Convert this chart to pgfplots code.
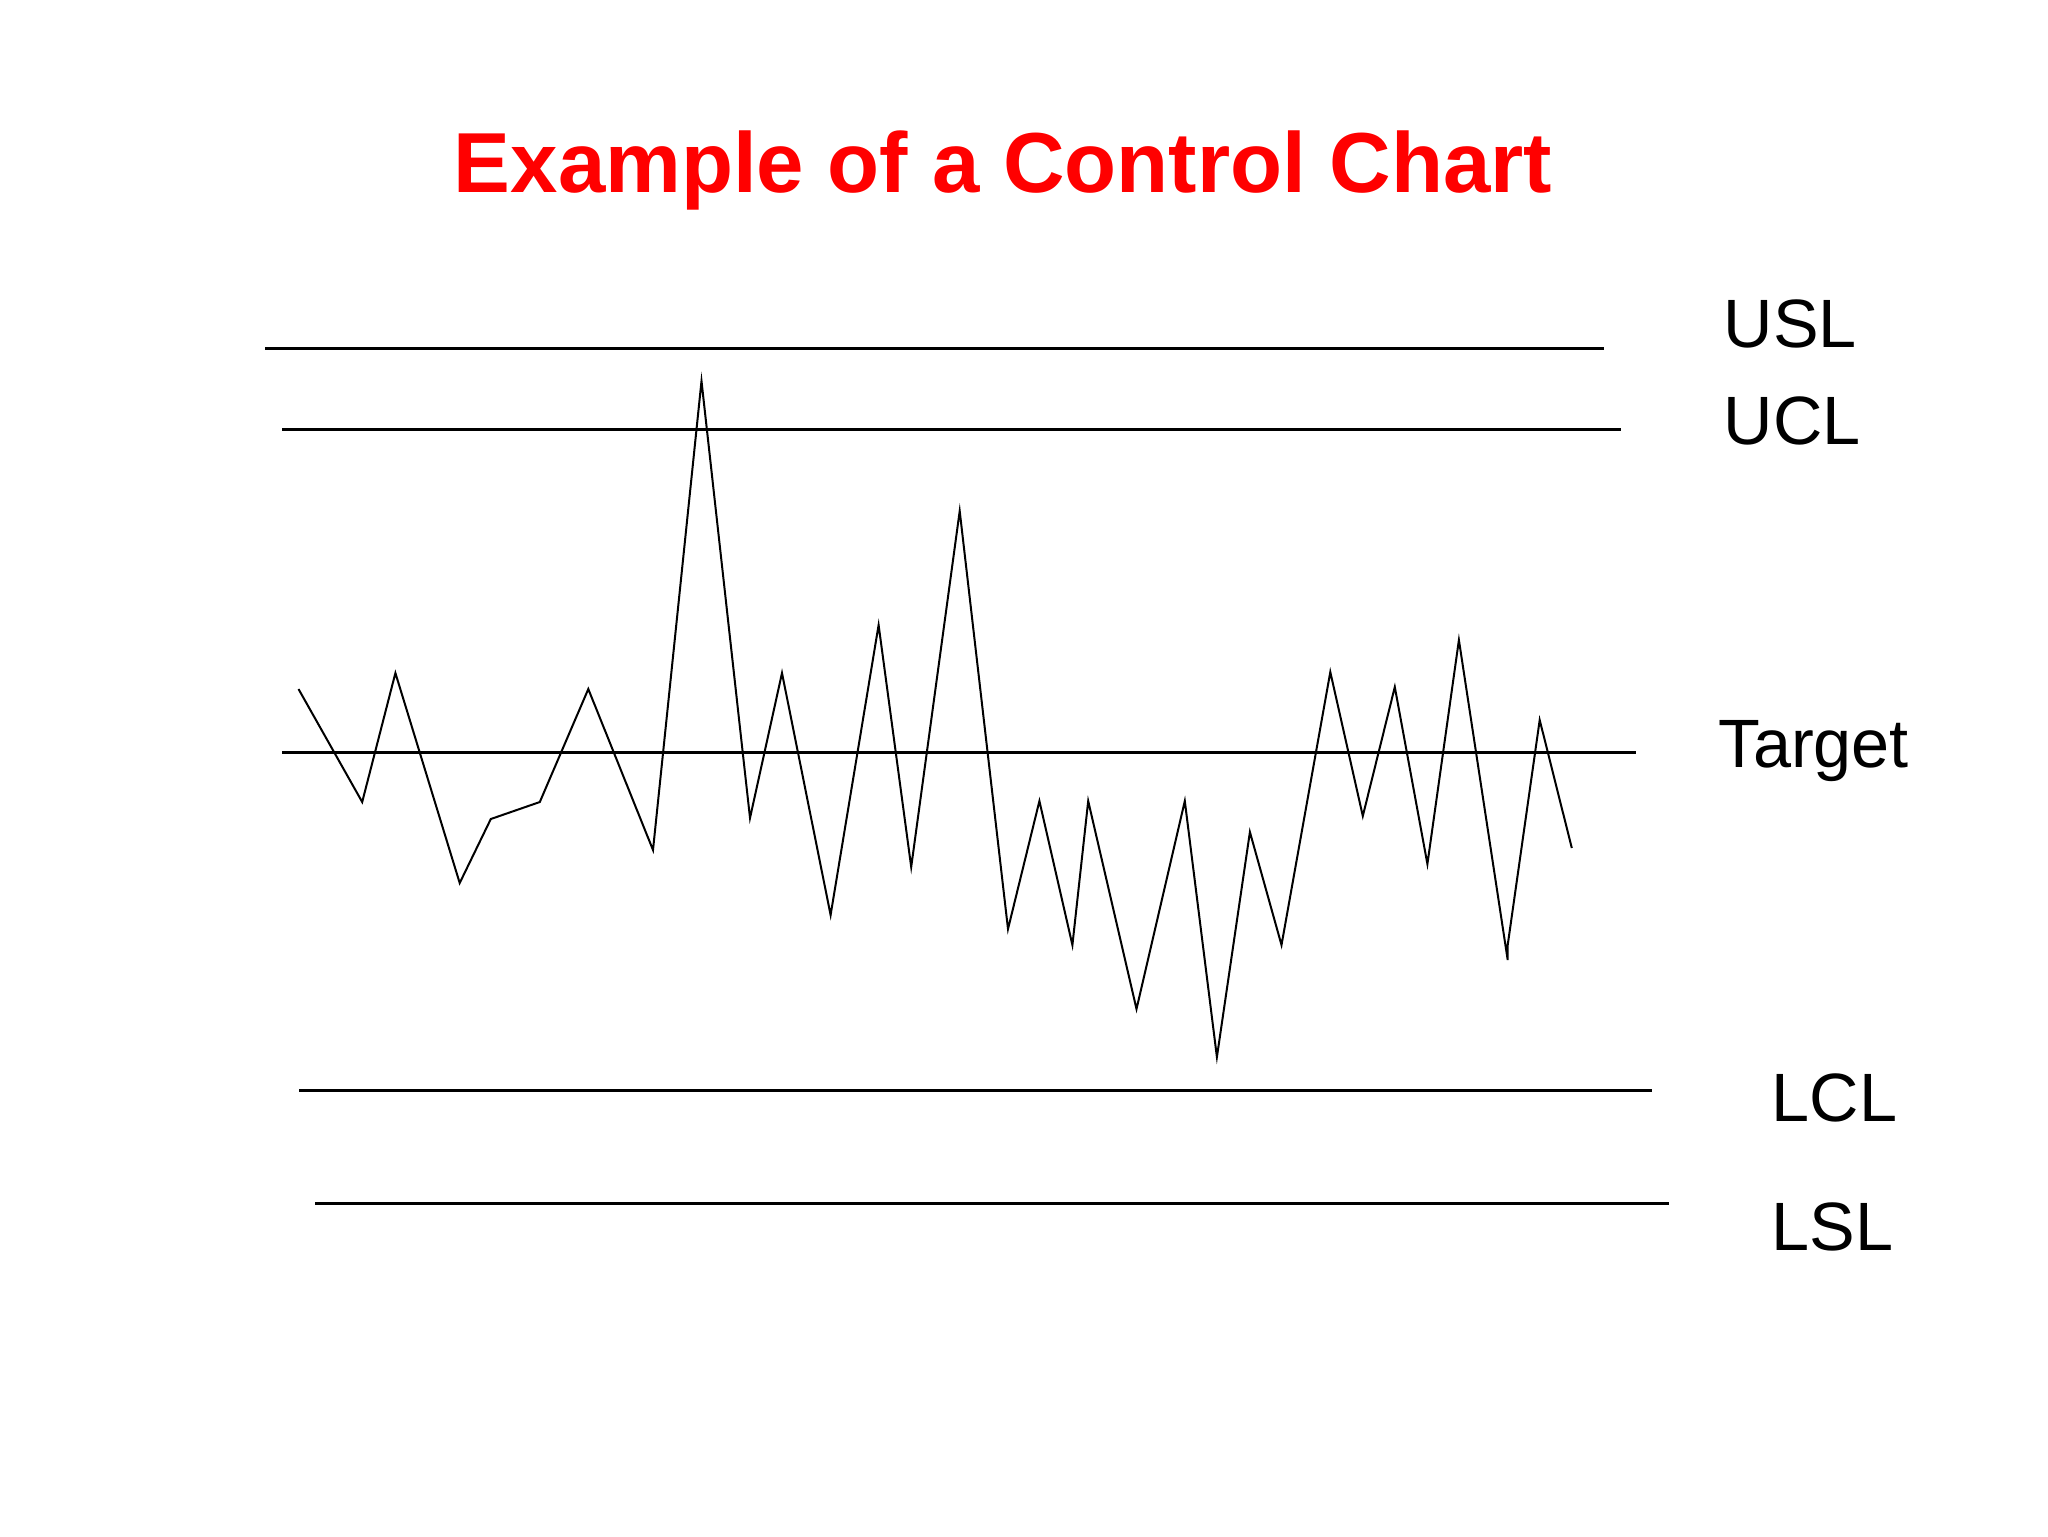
\documentclass[border=0pt]{standalone}
\usepackage{pgfplots}
\pgfplotsset{compat=1.18}
\usepackage{fontspec}
\setmainfont{Liberation Sans}
\begin{document}
\begin{tikzpicture}
\begin{axis}[
    width=512pt, height=384pt, scale only axis,
    xmin=0, xmax=2048, ymin=0, ymax=1536, y dir=reverse,
    hide axis, clip=false,
]
% limit lines
\addplot[black, line width=0.65pt] coordinates {(265,348.5) (1604,348.5)};
\addplot[black, line width=0.65pt] coordinates {(282,429.5) (1621,429.5)};
\addplot[black, line width=0.65pt] coordinates {(282,752.5) (1636,752.5)};
\addplot[black, line width=0.65pt] coordinates {(299,1090.5) (1652,1090.5)};
\addplot[black, line width=0.65pt] coordinates {(315,1203.5) (1669,1203.5)};
% measurements
\addplot[black, line width=0.5pt, line join=miter] coordinates {
 (298.5,689) (362.2,802) (395.4,673) (459.7,883) (490.8,819) (539.8,802)
 (588.3,689) (653,850) (701.5,381) (750,818) (782,673) (830.6,915)
 (878.6,625) (911.2,867) (959.7,511) (1008,929) (1039.4,801) (1072.4,945)
 (1088.2,801) (1136.5,1009) (1184.8,801) (1216.9,1057) (1249.9,832)
 (1281.5,945) (1330.3,672) (1362.8,816) (1394.8,687) (1427.4,864)
 (1458.9,640) (1507.7,960) (1507.7,945) (1539.7,720) (1571.8,848)
};
\node[anchor=base, inner sep=0, text=red, font=\fontsize{21.3}{25}\selectfont\bfseries]
  at (axis cs:1003,192) {Example of a Control Chart};
\begin{scope}[every node/.style={anchor=base west, inner sep=0, font=\fontsize{17.1}{20}\selectfont}]
\node at (axis cs:1723,347) {USL};
\node at (axis cs:1723,444) {UCL};
\node at (axis cs:1718,767) {Target};
\node at (axis cs:1771,1121) {LCL};
\node at (axis cs:1771,1250) {LSL};
\end{scope}
\end{axis}
\path (current axis.south west) rectangle (current axis.north east);
\end{tikzpicture}
\end{document}
